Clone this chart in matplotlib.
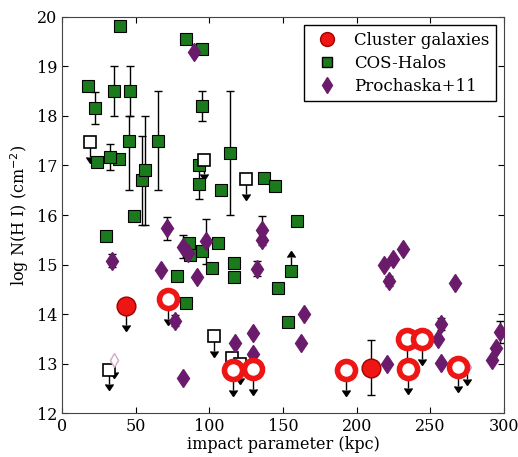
import matplotlib.pyplot as plt
import numpy as np

plt.rcParams["font.family"] = "DejaVu Serif"

# COS-Halos detections (filled squares)
cos_b = [17.7, 23.8, 30, 38.7, 39.4, 48.8, 78, 84, 86, 86.5, 93, 95, 101.7,
         106, 108, 116.8, 116.8, 137.3, 144.7, 146.6, 153.5, 159.6]
cos_n = [18.6, 17.08, 15.57, 17.13, 19.82, 15.99, 14.76, 14.23, 15.43, 15.2,
         17.02, 15.27, 14.94, 15.43, 16.5, 15.04, 14.74, 16.74, 16.58, 14.52,
         13.83, 15.87]
# COS-Halos with error bars
cos_err_b = [22.4, 32.6, 35.3, 46, 45.6, 54.4, 56.5, 65.4, 84.3, 93, 95, 95, 114]
cos_err_n = [18.16, 17.17, 18.5, 18.5, 17.5, 16.7, 16.9, 17.5, 19.55, 16.62,
             19.35, 18.2, 17.25]
cos_err_lo = [0.33, 0.27, 0.5, 0.5, 1.0, 0.9, 1.1, 1.0, 0.1, 0.3, 0.1, 0.3, 1.25]
cos_err_hi = [0.33, 0.27, 0.5, 0.5, 0.5, 0.9, 1.1, 1.0, 0.1, 0.3, 0.1, 0.3, 1.25]
# COS-Halos upper limits (open squares) and lower limit
cos_ul_b = [19, 96.5, 125, 103.3, 115.4, 121, 31.9]
cos_ul_n = [17.47, 17.12, 16.72, 13.56, 13.12, 13.0, 12.88]
cos_ll_b = [155.5]
cos_ll_n = [14.86]

# Prochaska+11 (diamonds)
pro_b = [85.6, 89.7, 67.3, 91.7, 82, 117.6, 129.7, 129.7, 136, 162, 164,
         218.7, 224.8, 231.6, 220.6, 255.5, 257.5, 267, 292, 294.6]
pro_n = [15.24, 19.3, 14.88, 14.74, 12.71, 13.42, 13.62, 13.2, 15.49, 13.42,
         14.0, 15.0, 15.12, 15.32, 13.0, 13.5, 13.02, 14.62, 13.08, 13.32]
pro_err_b = [34, 71.4, 82, 97.8, 76.5, 132.4, 136, 222, 257.5, 297.5]
pro_err_n = [15.08, 15.73, 15.36, 15.47, 13.87, 14.92, 15.69, 14.66, 13.8, 13.64]
pro_err = [0.13, 0.23, 0.23, 0.45, 0.12, 0.15, 0.3, 0.1, 0.12, 0.23]
pro_ul_b = [35.3, 275]
pro_ul_n = [13.08, 12.94]

# Cluster galaxies
cl_fill_ul_b = [43.5]
cl_fill_ul_n = [14.17]
cl_det_b = [210]
cl_det_n = [12.92]
cl_det_err = [0.55]
cl_open_b = [72, 116, 129.7, 193, 234.4, 244.6, 235, 269]
cl_open_n = [14.31, 12.87, 12.89, 12.87, 13.5, 13.5, 12.9, 12.94]

green = "#1b7a1b"
purple = "#6b1b6b"
red = "#ee1515"
arrow = 0.4

fig = plt.figure(figsize=(5.18, 4.57), dpi=100)
ax = fig.add_axes([0.12, 0.096, 0.853, 0.867])

eb = dict(fmt="none", color="k", ecolor="k", elinewidth=1, capsize=3, zorder=2)

# error bars / limits
ax.errorbar(cos_err_b, cos_err_n, yerr=[cos_err_lo, cos_err_hi], **eb)
ax.errorbar(pro_err_b, pro_err_n, yerr=pro_err, **eb)
ax.errorbar(cl_det_b, cl_det_n, yerr=cl_det_err, **eb)
ax.errorbar(cos_ul_b, cos_ul_n, yerr=0.3, uplims=True, **eb)
ax.errorbar(cos_ll_b, cos_ll_n, yerr=0.3, lolims=True, **eb)
ax.errorbar(pro_ul_b, pro_ul_n, yerr=0.25, uplims=True, **eb)
ax.errorbar(cl_fill_ul_b, cl_fill_ul_n, yerr=arrow, uplims=True, **eb)
ax.errorbar(cl_open_b, cl_open_n, yerr=arrow, uplims=True, **eb)

# markers
ax.plot(cos_b + cos_err_b + cos_ll_b, cos_n + cos_err_n + cos_ll_n, "s",
        ms=8, mfc=green, mec="k", mew=0.8, ls="none", zorder=3)
ax.plot(cos_ul_b, cos_ul_n, "s", ms=8, mfc="white", mec="k", mew=1.2,
        ls="none", zorder=3)
ax.plot(pro_b + pro_err_b, pro_n + pro_err_n, "d", ms=9.5, mfc=purple,
        mec=purple, ls="none", zorder=3)
ax.plot(pro_ul_b, pro_ul_n, "d", ms=7, mfc="white", mec="#d4a8c8", mew=1,
        ls="none", zorder=3)
ax.plot(cl_fill_ul_b + cl_det_b, cl_fill_ul_n + cl_det_n, "o", ms=13.5,
        mfc=red, mec="#a00000", mew=1, ls="none", zorder=4)
ax.plot(cl_open_b, cl_open_n, "o", ms=13, mfc="white", mec=red, mew=4,
        ls="none", zorder=4)

# legend handles
h1, = ax.plot([], [], "o", ms=10, mfc=red, mec="#a00000", label="Cluster galaxies")
h2, = ax.plot([], [], "s", ms=7, mfc=green, mec="k", label="COS-Halos")
h3, = ax.plot([], [], "d", ms=8, mfc=purple, mec=purple, label="Prochaska+11")
leg = ax.legend(handles=[h1, h2, h3], loc="upper right", numpoints=1,
                fontsize=12, fancybox=False, framealpha=1,
                borderaxespad=0.5, handletextpad=0.6, labelspacing=0.35)
leg.get_frame().set_edgecolor("k")

ax.set_xlim(0, 300)
ax.set_ylim(12, 20)
ax.set_xticks([0, 50, 100, 150, 200, 250, 300])
ax.set_yticks(np.arange(12, 21, 1))
ax.tick_params(direction="in", top=True, right=True, labelsize=11.5, length=4)
ax.set_xlabel("impact parameter (kpc)", fontsize=11.5, labelpad=1)
ax.set_ylabel("log N(H I) (cm$^{-2}$)", fontsize=11.5)
for s in ax.spines.values():
    s.set_color("#444444")

fig.savefig("out.png", dpi=100)
